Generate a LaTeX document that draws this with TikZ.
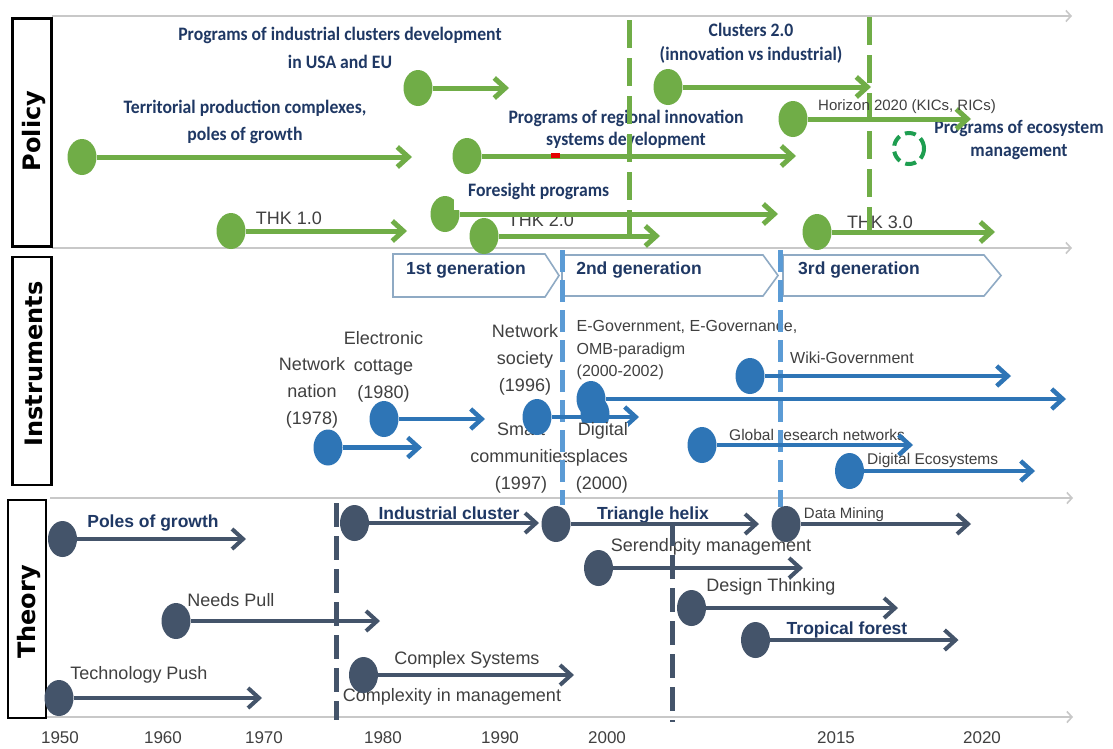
\documentclass[tikz,border=0pt]{standalone}
\usepackage{fontspec}
\setmainfont{Liberation Sans}
\newfontfamily\calfont[FakeStretch=0.93]{Carlito}
\newfontfamily\headfont{DejaVu Sans}
\usetikzlibrary{arrows.meta,shapes.geometric}

\definecolor{polgreen}{RGB}{112,173,71}
\definecolor{ecogreen}{RGB}{30,158,80}
\definecolor{insblue}{RGB}{46,117,182}
\definecolor{lineblue}{RGB}{91,155,213}
\definecolor{thslate}{RGB}{68,84,106}
\definecolor{navy}{RGB}{31,56,100}
\definecolor{txtgray}{RGB}{64,64,64}
\definecolor{railgray}{RGB}{200,200,200}
\definecolor{chevron}{RGB}{143,170,196}

\tikzset{
  lab/.style={inner sep=0pt, align=center},
  navyC/.style={lab, text=navy, font=\calfont\bfseries\fontsize{19}{27}\selectfont},
  navyA/.style={lab, text=navy, font=\bfseries\fontsize{17.5}{21}\selectfont},
  grayL/.style={lab, text=txtgray, font=\fontsize{18}{26.7}\selectfont},
  graySm/.style={lab, text=txtgray, font=\fontsize{15.5}{22.5}\selectfont},
  yearlab/.style={lab, text=txtgray, font=\fontsize{17}{20}\selectfont},
  head/.style={inner sep=0pt, rotate=90, font=\headfont\bfseries\fontsize{24}{24}\selectfont},
  secbox/.style={draw=black, line width=2.6pt, inner sep=0pt},
  dot/.style={ellipse, fill=#1, minimum width=29pt, minimum height=36pt, inner sep=0pt},
  rail/.style={draw=railgray, line width=1.6pt, -{Straight Barb[length=5pt,width=11pt]}},
  garr/.style={draw=polgreen, line width=5pt, -{Straight Barb[length=11pt,width=20pt]}},
  barr/.style={draw=insblue, line width=4.5pt, -{Straight Barb[length=11pt,width=20pt]}},
  tarr/.style={draw=thslate, line width=4pt, -{Straight Barb[length=11pt,width=20pt]}},
  gdash/.style={draw=polgreen, line width=5pt, dash pattern=on 28pt off 10pt},
  bdash/.style={draw=lineblue, line width=5pt, dash pattern=on 22pt off 8pt},
  tdash/.style={draw=thslate, line width=5pt, dash pattern=on 24pt off 9pt},
  genbox/.style={draw=chevron, line width=1.6pt, fill=white},
}

\begin{document}
\begin{tikzpicture}[x=1pt,y=-1pt]
\useasboundingbox (0,0) rectangle (1113,748);
\fill[white] (0,0) rectangle (1113,748);

% ---------- timeline rails ----------
\coordinate (r1a) at (52,16);   \coordinate (r1b) at (1072,16);
\coordinate (r2a) at (52,248);  \coordinate (r2b) at (1072,248);
\coordinate (r3a) at (50,498);  \coordinate (r3b) at (1073,498);
\coordinate (r4a) at (46,717);  \coordinate (r4b) at (1073,717);
\draw[rail] (r1a) -- (r1b);
\draw[rail] (r2a) -- (r2b);
\draw[rail] (r3a) -- (r3b);
\draw[rail] (r4a) -- (r4b);

% ---------- section headings ----------
\node[secbox, minimum width=39pt, minimum height=228pt] (polBox) at (32,132.5) {};
\node[head] (polHead) at (34,131) {Policy};
\node[secbox, minimum width=39pt, minimum height=228pt] (insBox) at (32,371) {};
\node[head] (insHead) at (34,364) {Instruments};
\node[secbox, minimum width=38pt, minimum height=218pt] (thBox) at (27,609) {};
\node[head] (thHead) at (29,612) {Theory};

% ---------- years ----------
\node[yearlab] (y1950) at (60,738) {1950};
\node[yearlab] (y1960) at (163,738) {1960};
\node[yearlab] (y1970) at (264,738) {1970};
\node[yearlab] (y1980) at (383,738) {1980};
\node[yearlab] (y1990) at (500,738) {1990};
\node[yearlab] (y2000) at (607,738) {2000};
\node[yearlab] (y2015) at (836,738) {2015};
\node[yearlab] (y2020) at (982,738) {2020};

% ---------- generations ----------
\draw[genbox] (393,254) -- (545,254) -- (559,275.5) -- (545,297) -- (393,297) -- cycle;
\draw[genbox] (562,255) -- (763,255) -- (778,275.5) -- (763,296) -- (562,296) -- cycle;
\draw[genbox] (783,255) -- (984,255) -- (1001,275.5) -- (984,296) -- (783,296) -- cycle;
\node[navyA] (gen1) at (466,270) {1st generation};
\node[navyA] (gen2) at (639,270) {2nd generation};
\node[navyA] (gen3) at (859,270) {3rd generation};

% ---------- policy labels ----------
\node[navyC] (lTerr) at (245,121.5) {Territorial production complexes,\\poles of growth};
\node[navyC, font=\calfont\bfseries\fontsize{19}{28}\selectfont] (lInd) at (340,47.5) {Programs of industrial clusters development\\in USA and EU};
\node[navyC, font=\calfont\bfseries\fontsize{19}{22}\selectfont] (lReg) at (626,129) {Programs of regional innovation\\systems development};
\node[navyC, font=\calfont\bfseries\fontsize{19}{23.5}\selectfont] (lClu) at (751,43.5) {Clusters 2.0\\(innovation vs industrial)};
\node[navyC, font=\calfont\bfseries\fontsize{19}{23.7}\selectfont] (lEco) at (1019,140) {Programs of ecosystem\\management};
\node[grayL] (lThk1) at (289,218) {THK 1.0};
\node[grayL] (lThk2) at (541,220) {THK 2.0};
\node[grayL] (lThk3) at (880,222) {THK 3.0};

% ---------- instrument labels ----------
\node[grayL] (lNat) at (312,393) {Network\\nation\\(1978)};
\node[grayL] (lEle) at (383.5,366.7) {Electronic\\cottage\\(1980)};
\node[grayL] (lSoc) at (525,360) {Network\\society\\(1996)};
\node[grayL] (lSma) at (521,458) {Smart\\communities\\(1997)};
\node[graySm, align=left, anchor=west, font=\fontsize{16}{22.5}\selectfont] (lGov) at (576.5,350.5) {E-Government, E-Governance,\\OMB-paradigm\\(2000-2002)};
\node[graySm, anchor=west, font=\fontsize{16}{20}\selectfont] (lWiki) at (790,358) {Wiki-Government};
\node[graySm, anchor=west] (lGlo) at (729,435) {Global research networks};
\node[graySm, anchor=west] (lDEc) at (867,460) {Digital Ecosystems};

% ---------- theory labels ----------
\node[navyA] (lPol) at (153,523) {Poles of growth};
\node[grayL] (lNeed) at (231,600) {Needs Pull};
\node[grayL] (lTech) at (139,675) {Technology Push};
\node[navyA] (lIndC) at (449,513) {Industrial cluster};
\node[grayL] (lCom) at (467,660) {Complex Systems};
\node[grayL] (lCmx) at (452,697) {Complexity in management};
\node[navyA] (lTri) at (653,515) {Triangle helix};
\node[graySm, font=\fontsize{15}{18}\selectfont] (lDM) at (844,515) {Data Mining};
\node[grayL] (lSer) at (711,547) {Serendipity management};
\node[grayL] (lDes) at (771,587) {Design Thinking};
\node[navyA] (lTro) at (847,630) {Tropical forest};

% ---------- period boundaries ----------
\coordinate (gd1a) at (629,20);  \coordinate (gd1b) at (629,248);
\coordinate (gd2a) at (869,17);  \coordinate (gd2b) at (869,240);
\coordinate (bd1a) at (562,250); \coordinate (bd1b) at (562,505);
\coordinate (bd2a) at (780,250); \coordinate (bd2b) at (780,507);
\coordinate (td1a) at (336,503); \coordinate (td1b) at (336,720);
\coordinate (td2a) at (672,522); \coordinate (td2b) at (672,722);
\draw[gdash] (gd1a) -- (gd1b);
\draw[gdash] (gd2a) -- (gd2b);
\draw[bdash] (bd1a) -- (bd1b);
\draw[bdash] (bd2a) -- (bd2b);
\draw[tdash] (td1a) -- (td1b);
\draw[tdash] (td2a) -- (td2b);

% ---------- policy timeline ----------
\node[dot=polgreen] (gTerr) at (82,157) {};
\coordinate (eTerr) at (412,157);
\draw[garr] (gTerr.east) -- (eTerr);
\node[dot=polgreen] (gInd) at (418,88) {};
\coordinate (eInd) at (509,88);
\draw[garr] (gInd.east) -- (eInd);
\node[dot=polgreen] (gReg) at (467,156) {};
\coordinate (eReg) at (796,156);
\draw[garr] (gReg.east) -- (eReg);
\fill[red!90!black] (551,153) rectangle (560,158);
\node[dot=polgreen] (gClu) at (668,87) {};
\coordinate (eClu) at (871,87);
\draw[garr] (gClu.east) -- (eClu);
\node[dot=polgreen] (gHor) at (793,119) {};
\coordinate (eHor) at (971,119);
\draw[garr] (gHor.east) -- (eHor);
\node[graySm, font=\fontsize{15}{18}\selectfont] (lHor) at (907,106.5) {Horizon 2020 (KICs, RICs)};
\node[ellipse, draw=ecogreen, line width=4pt, dash pattern=on 11pt off 6pt, minimum width=30pt, minimum height=31pt, inner sep=0pt] (gEco) at (909,148.5) {};
\node[dot=polgreen] (gThk1) at (231,231) {};
\coordinate (eThk1) at (407,231);
\draw[garr] (gThk1.east) -- (eThk1);
\node[dot=polgreen] (gFor) at (445,214) {};
\node[navyC, anchor=base west, fill=white, text depth=13pt] (lFor) at (454,196.5) {\hspace*{14pt}Foresight programs};
\coordinate (eFor) at (778,214);
\draw[garr] (gFor.east) -- (eFor);
\node[dot=polgreen] (gThk2) at (484,236) {};
\coordinate (eThk2) at (660,236);
\draw[garr] (gThk2.east) -- (eThk2);
\node[dot=polgreen] (gThk3) at (817,232) {};
\coordinate (eThk3) at (995,232);
\draw[garr] (gThk3.east) -- (eThk3);

% ---------- instruments timeline ----------
\node[dot=insblue] (bNat) at (328,447.5) {};
\coordinate (eNat) at (422,447.5);
\draw[barr] (bNat.east) -- (eNat);
\node[dot=insblue] (bEle) at (384,419) {};
\coordinate (eEle) at (485,419);
\draw[barr] (bEle.east) -- (eEle);
\node[dot=insblue] (bSoc) at (537,417) {};
\coordinate (eSoc) at (639,417);
\draw[barr] (bSoc.east) -- (eSoc);
\node[dot=insblue] (bSpa) at (595,414) {};
\node[dot=insblue] (bGov) at (591,399) {};
\coordinate (eGov) at (1066,399);
\draw[barr] (bGov.east) -- (eGov);
\node[dot=insblue] (bWiki) at (750,376) {};
\coordinate (eWiki) at (1011,376);
\draw[barr] (bWiki.east) -- (eWiki);
\node[dot=insblue] (bGlo) at (702,445) {};
\coordinate (eGlo) at (913,445);
\draw[barr] (bGlo.east) -- (eGlo);
\node[dot=insblue] (bDEc) at (849.5,471) {};
\coordinate (eDEc) at (1035,471);
\draw[barr] (bDEc.east) -- (eDEc);
\node[grayL, align=right, anchor=east, fill=white] (lSpa) at (628,458) {Digital\\splaces\\(2000)};

% ---------- theory timeline ----------
\node[dot=thslate] (tPol) at (62.5,539) {};
\coordinate (ePol) at (246,539);
\draw[tarr] (tPol.east) -- (ePol);
\node[dot=thslate] (tNeed) at (176,621) {};
\coordinate (eNeed) at (380,621);
\draw[tarr] (tNeed.east) -- (eNeed);
\node[dot=thslate] (tTech) at (59,698) {};
\coordinate (eTech) at (262,698);
\draw[tarr] (tTech.east) -- (eTech);
\node[dot=thslate] (tInd) at (354.5,523) {};
\coordinate (eInd2) at (539,523);
\draw[tarr] (tInd.east) -- (eInd2);
\node[dot=thslate] (tCom) at (363.5,675) {};
\coordinate (eCom) at (574,675);
\draw[tarr] (tCom.east) -- (eCom);
\node[dot=thslate] (tTri) at (556,524) {};
\coordinate (eTri) at (759,524);
\draw[tarr] (tTri.east) -- (eTri);
\node[dot=thslate] (tDM) at (786,524) {};
\coordinate (eDM) at (971,524);
\draw[tarr] (tDM.east) -- (eDM);
\node[dot=thslate] (tSer) at (598.5,568) {};
\coordinate (eSer) at (803,568);
\draw[tarr] (tSer.east) -- (eSer);
\node[dot=thslate] (tDes) at (691.5,608) {};
\coordinate (eDes) at (898,608);
\draw[tarr] (tDes.east) -- (eDes);
\node[dot=thslate] (tTro) at (755.5,640) {};
\coordinate (eTro) at (958.5,640);
\draw[tarr] (tTro.east) -- (eTro);
\end{tikzpicture}
\end{document}
